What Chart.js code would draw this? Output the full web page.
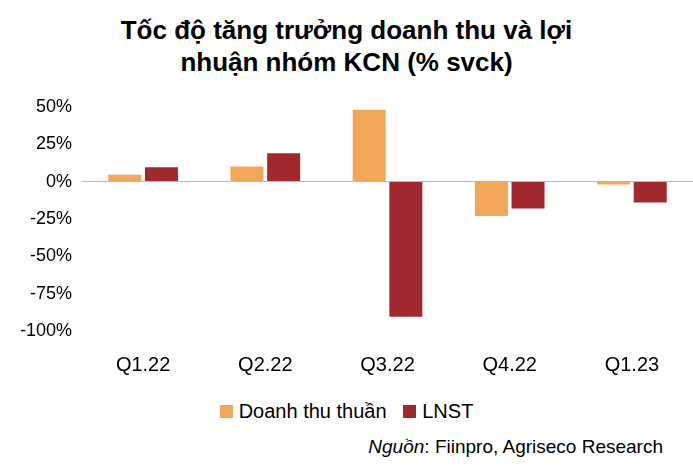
<!DOCTYPE html>
<html><head><meta charset="utf-8">
<script src="https://cdn.jsdelivr.net/npm/chart.js@4"></script>
<style>
body{margin:0;width:693px;height:472px;background:#fff;font-family:"Liberation Sans",Arial,sans-serif;position:relative;overflow:hidden}
#title{position:absolute;top:14px;left:0;width:693px;text-align:center;font-weight:bold;font-size:26px;line-height:32px;color:#000}
#wrap{position:absolute;left:10px;top:86px;width:683px;height:305px}
#legend{position:absolute;top:400px;left:0;width:693px;text-align:center;font-size:20px}
.sw{display:inline-block;width:13px;height:13px;margin:0 6px 0 0}
#src{position:absolute;top:436px;right:30px;font-size:19px}
</style></head><body>
<div id="title">Tốc độ tăng trưởng doanh thu và lợi<br>nhuận nhóm KCN (% svck)</div>
<div id="wrap"><canvas id="c"></canvas></div>
<div id="legend"><span class="sw" style="background:#F2A65A"></span>Doanh thu thuần &nbsp;&nbsp;<span class="sw" style="background:#A1292E"></span>LNST</div>
<div id="src"><i>Nguồn</i>: Fiinpro, Agriseco Research</div>
<script>
const categories = ['Q1.22', 'Q2.22', 'Q3.22', 'Q4.22', 'Q1.23'];
const revenue = [4.5, 10, 48, -23, -2];
const profit = [9.5, 19, -90.5, -18, -14];

new Chart(document.getElementById('c'), {
    type: 'bar',
    data: {
        labels: categories,
        datasets: [
            { label: 'Doanh thu thuần', data: revenue, backgroundColor: '#F2A65A', categoryPercentage: 0.6, barPercentage: 0.9 },
            { label: 'LNST', data: profit, backgroundColor: '#A1292E', categoryPercentage: 0.6, barPercentage: 0.9 }
        ]
    },
    options: {
        responsive: true, maintainAspectRatio: false, animation: false,
        layout: { padding: { top: 8, right: 0 } },
        plugins: { legend: { display: false }, tooltip: { enabled: false } },
        scales: {
            x: { grid: { display: false }, border: { display: false },
                 ticks: { color: '#000', font: { size: 20, family: 'Liberation Sans' }, padding: 14 } },
            y: { min: -100, max: 50, border: { display: false },
                 grid: { color: ctx => ctx.tick.value === 0 ? '#bbb' : 'transparent', drawTicks: false },
                 ticks: { stepSize: 25, color: '#000', padding: 10, font: { size: 18, family: 'Liberation Sans' }, callback: v => v + '%' } }
        }
    }
});
</script>
</body></html>
